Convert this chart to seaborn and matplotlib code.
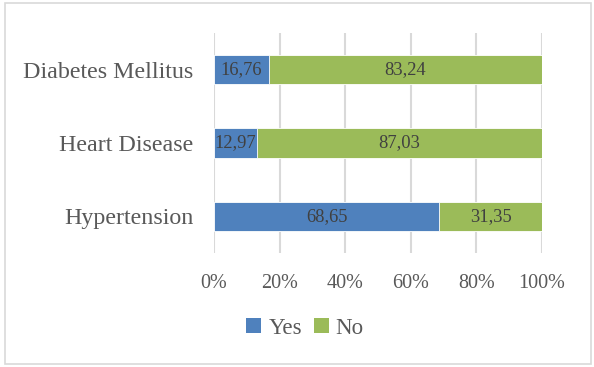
import matplotlib
matplotlib.use("Agg")
import matplotlib.pyplot as plt
from matplotlib.patches import Rectangle, Patch
import seaborn as sns
import pandas as pd

categories = ["Diabetes Mellitus", "Heart Disease", "Hypertension"]
yes_pct = [16.76, 12.97, 68.65]
no_pct = [83.24, 87.03, 31.35]
series_names = ["Yes", "No"]
tick_values = [0, 20, 40, 60, 80, 100]
tick_labels = ["0%", "20%", "40%", "60%", "80%", "100%"]

BLUE = "#4F81BD"
GREEN = "#9BBB59"
TEXT = "#595959"
LABEL = "#404040"
GRID = "#D9D9D9"

sns.set_theme(style="white")
plt.rcParams["font.family"] = ["Liberation Serif", "DejaVu Serif"]

df = pd.DataFrame({"category": categories, "Yes": yes_pct, "No": no_pct})
df["total"] = df["Yes"] + df["No"]

fig = plt.figure(figsize=(5.94, 3.67), dpi=100)
ax = fig.add_axes([214 / 594, 1 - 253 / 367, 328 / 594, 220 / 367])

# stacked bars: full stack in green, the "Yes" share drawn over it
sns.barplot(data=df, x="total", y="category", color=GREEN, width=0.4,
            saturation=1, ax=ax, zorder=3, edgecolor="white", linewidth=0.6)
sns.barplot(data=df, x="Yes", y="category", color=BLUE, width=0.4,
            saturation=1, ax=ax, zorder=4, edgecolor="white", linewidth=0.6)

for i, (y, n) in enumerate(zip(yes_pct, no_pct)):
    ax.text(y / 2, i, f"{y:.2f}".replace(".", ","), ha="center", va="center",
            fontsize=13.3, color=LABEL, zorder=5)
    ax.text(y + n / 2, i, f"{n:.2f}".replace(".", ","), ha="center", va="center",
            fontsize=13.3, color=LABEL, zorder=5)

ax.set_xlim(0, 100)
ax.set_ylim(2.5, -0.5)
ax.set_xticks(tick_values)
ax.set_xticklabels(tick_labels, fontsize=14.5, color=TEXT)
ax.tick_params(axis="x", length=0, pad=15)
ax.tick_params(axis="y", length=0, pad=15, labelsize=17.3, labelcolor=TEXT)
ax.set_xlabel("")
ax.set_ylabel("")
for s in ax.spines.values():
    s.set_visible(False)
ax.xaxis.grid(True, color=GRID, linewidth=1.5, zorder=0)
ax.set_axisbelow(True)

handles = [Patch(facecolor=BLUE, edgecolor="none"), Patch(facecolor=GREEN, edgecolor="none")]
fig.legend(handles, series_names, loc="center", bbox_to_anchor=(305 / 594, 1 - 328 / 367),
           ncol=2, frameon=False, fontsize=16.6, labelcolor=TEXT,
           handlelength=0.65, handleheight=0.65, handletextpad=0.3, columnspacing=0.5)

fig.add_artist(Rectangle((5 / 594, 3 / 367), 586 / 594, 361 / 367, transform=fig.transFigure,
                         fill=False, edgecolor=GRID, linewidth=1.2))

fig.savefig("out.png", dpi=100)
